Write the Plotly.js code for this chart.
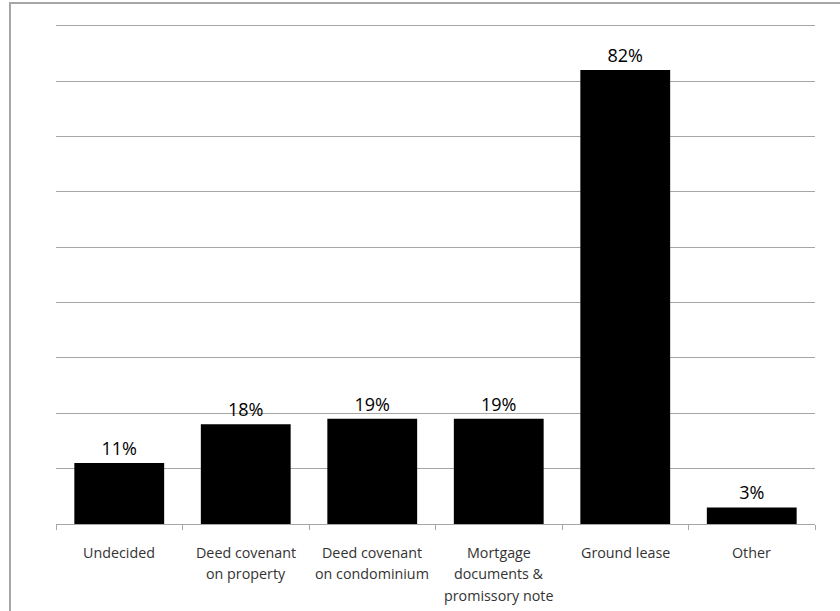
<!DOCTYPE html>
<html>
<head>
<meta charset="utf-8">
<script src="https://cdn.plot.ly/plotly-3.0.1.min.js"></script>
<style>
  html, body { margin: 0; padding: 0; background: #fff; overflow: hidden; }
  #wrap { position: relative; width: 840px; height: 611px; overflow: hidden; }
  #chart { width: 840px; height: 611px; }
  #frame { position: absolute; left: 9px; top: 2px; width: 900px; height: 700px;
           border: 2px solid #a6a6a6; box-sizing: border-box; pointer-events: none; }
</style>
</head>
<body>
<div id="wrap">
  <div id="chart"></div>
  <div id="frame"></div>
</div>
<script>
const categories = [
  "Undecided",
  "Deed covenant<br>on property",
  "Deed covenant<br>on condominium",
  "Mortgage<br>documents &<br>promissory note",
  "Ground lease",
  "Other"
];
const values = [11, 18, 19, 19, 82, 3];

const trace = {
  type: "bar",
  x: categories,
  y: values,
  marker: { color: "#000000", line: { color: "#000000", width: 0 } },
  texttemplate: "%{y}%",
  textposition: "outside",
  cliponaxis: false,
  textfont: { family: "Open Sans, sans-serif", size: 18, color: "#000000" },
  hoverinfo: "none"
};

// Category labels drawn as annotations so their line spacing matches the reference
const labelAnnotations = [];
categories.forEach(function (cat) {
  cat.split("<br>").forEach(function (line, i) {
    labelAnnotations.push({
      x: cat, xref: "x",
      y: 0, yref: "paper",
      yshift: -(28 + i * 21.7),
      text: line,
      showarrow: false,
      xanchor: "center",
      yanchor: "middle",
      font: { family: "Open Sans, sans-serif", size: 14.3, color: "#333333" }
    });
  });
});

const layout = {
  width: 840,
  height: 611,
  margin: { l: 56, r: 25, t: 24, b: 87 },
  paper_bgcolor: "#ffffff",
  plot_bgcolor: "#ffffff",
  bargap: 0.29,
  showlegend: false,
  font: { family: "Open Sans, sans-serif", color: "#333333" },
  annotations: labelAnnotations,
  xaxis: {
    type: "category",
    showline: true,
    linecolor: "#a6a6a6",
    linewidth: 1,
    ticks: "outside",
    tickson: "boundaries",
    ticklen: 5,
    tickcolor: "#a6a6a6",
    showticklabels: false,
    showgrid: false,
    zeroline: false
  },
  yaxis: {
    range: [0, 90.3],
    dtick: 10,
    tick0: 0,
    showgrid: true,
    gridcolor: "#a6a6a6",
    gridwidth: 1,
    showticklabels: false,
    zeroline: false,
    showline: false,
    ticks: ""
  }
};

Plotly.newPlot("chart", [trace], layout, { displayModeBar: false, staticPlot: true });
</script>
</body>
</html>
